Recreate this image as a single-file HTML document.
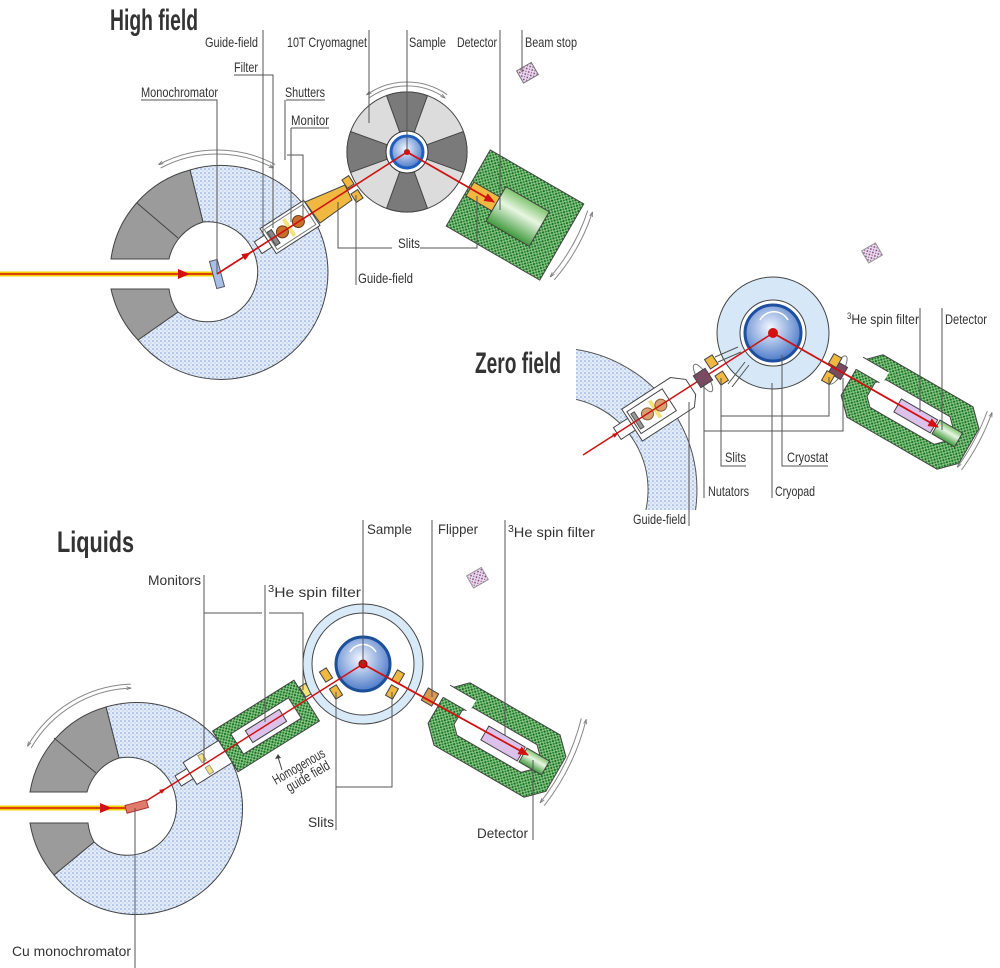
<!DOCTYPE html>
<html><head><meta charset="utf-8"><style>
html,body{margin:0;padding:0;background:#fff}
svg{display:block}
text{font-family:"Liberation Sans Narrow","Liberation Sans",sans-serif;fill:#333;font-size:14px}
.t{font-weight:bold;fill:#333;font-size:30px}
.l{stroke:#555;stroke-width:1;fill:none}
.o{stroke:#444;stroke-width:1}
</style></head><body>
<svg width="1000" height="968" viewBox="0 0 1000 968" xmlns="http://www.w3.org/2000/svg">
<defs>
<pattern id="bd" width="4" height="4" patternUnits="userSpaceOnUse">
<rect width="4" height="4" fill="#e3ecf8"/><circle cx="1" cy="1" r="0.8" fill="#7f9fd6"/><circle cx="3" cy="3" r="0.6" fill="#a9c0e6"/></pattern>
<pattern id="gd" width="4" height="4" patternUnits="userSpaceOnUse">
<rect width="4" height="4" fill="#8cc686"/><circle cx="1" cy="1" r="1.1" fill="#157024"/><circle cx="3" cy="3" r="1" fill="#1f7f2c"/></pattern>
<pattern id="pd" width="4" height="4" patternUnits="userSpaceOnUse">
<rect width="4" height="4" fill="#eadbee"/><circle cx="1" cy="1" r="0.9" fill="#7b3f77"/><circle cx="3" cy="3" r="0.7" fill="#9a5a94"/></pattern>
<radialGradient id="bg" cx="0.45" cy="0.4" r="0.6"><stop offset="0" stop-color="#f2f6ff"/><stop offset="1" stop-color="#4f7cc8"/></radialGradient>
<linearGradient id="gc" x1="0" y1="0" x2="0" y2="1"><stop offset="0" stop-color="#7fc46f"/><stop offset="0.4" stop-color="#e8f6e2"/><stop offset="1" stop-color="#3f9a3c"/></linearGradient>
<marker id="ar" viewBox="0 0 10 10" refX="9" refY="5" markerWidth="6" markerHeight="6" orient="auto"><path d="M0,1 L10,5 L0,9 Z" fill="#d21010"/></marker>
<marker id="ga" viewBox="0 0 10 10" refX="9" refY="5" markerWidth="5" markerHeight="5" orient="auto"><path d="M0,2 L10,5 L0,8" fill="none" stroke="#777" stroke-width="1.5"/></marker>
<clipPath id="zc"><rect x="576" y="340" width="130" height="170"/></clipPath>
<g id="hs">
<path d="M-68,-20 L-52,-36 L52,-36 L68,-20 L68,20 L52,36 L-52,36 L-68,20 Z M-45,-8 L-37,-16 L37,-16 L45,-8 L45,8 L37,16 L-37,16 L-45,8 Z" fill="url(#gd)" fill-rule="evenodd" stroke="#444"/>
<rect x="-72" y="-24" width="34" height="14" fill="#fff"/>
<path d="M-68,-10 H-41 M-68,-24 H-39" stroke="#444" fill="none"/>
</g>
</defs>

<!-- ================= HIGH FIELD ================= -->
<text class="t" x="110" y="30" textLength="88" lengthAdjust="spacingAndGlyphs">High field</text>
<path d="M190,170 A107,107 0 1 1 138,340 L178,312 A50,50 0 1 0 203,222 Z" fill="url(#bd)" class="o"/>
<path d="M111,259 A107,107 0 0 1 190,170 L203,222 A50,50 0 0 0 169,259 Z" fill="#9b9b9b" class="o"/>
<line x1="137" y1="203" x2="178" y2="238" class="o"/>
<path d="M111,289 L169,289 A50,50 0 0 0 178,312 L138,340 A107,107 0 0 1 111,289 Z" fill="#9b9b9b" class="o"/>
<path d="M160.7,168 A120,120 0 0 1 273.3,168" stroke="#888" fill="none" marker-end="url(#ga)"/>
<path d="M275.2,164.5 A124,124 0 0 0 158.8,164.5" stroke="#888" fill="none" marker-end="url(#ga)"/>
<line x1="0" y1="274" x2="217" y2="274" stroke="#f5d000" stroke-width="5"/>
<line x1="0" y1="274" x2="217" y2="274" stroke="#d21010" stroke-width="1.5"/>
<path d="M178,269 L190,274 L178,279 Z" fill="#d21010"/>
<line x1="217" y1="274" x2="407" y2="152" stroke="#d21010" stroke-width="1.5"/>
<path d="M240,259.2 L250,253" stroke="#d21010" stroke-width="1.5" marker-end="url(#ar)"/>
<rect x="213" y="260" width="8" height="28" fill="#a9bfe6" stroke="#556" transform="rotate(-15 217 274)"/>
<g transform="translate(290,227) rotate(-33)">
<rect x="-38" y="-7" width="12" height="14" fill="#fff" class="o"/>
<rect x="-26" y="-15" width="52" height="30" fill="#fff" class="o"/>
<rect x="-23" y="-12" width="46" height="24" fill="#fff" stroke="#777"/>
<rect x="-22" y="-8" width="5" height="16" fill="#888" stroke="#444"/>
<rect x="-3" y="-10" width="4" height="20" fill="#f3e37a"/>
<circle cx="-9" cy="0" r="6" fill="#c8702a" stroke="#6a3a10"/>
<circle cx="10" cy="0" r="6" fill="#c8702a" stroke="#6a3a10"/>
</g>
<line x1="217" y1="274" x2="407" y2="152" stroke="#d21010" stroke-width="1.5"/>
<polygon points="305,202 345,185 352,200 320,223" fill="#f0b840" class="o"/>
<rect x="344" y="177" width="8" height="10" fill="#f0b840" class="o" transform="rotate(-33 348 182)"/>
<rect x="353" y="191" width="8" height="10" fill="#f0b840" class="o" transform="rotate(-33 357 196)"/>
<circle cx="407" cy="152" r="60" fill="#dcdcdc" class="o"/>
<path d="M399.8,132.3 L386.5,95.6 A60,60 0 0 1 427.5,95.6 L414.2,132.3 Z" fill="#7a7a7a" class="o"/>
<path d="M399.8,171.7 L386.5,208.4 A60,60 0 0 0 427.5,208.4 L414.2,171.7 Z" fill="#7a7a7a" class="o"/>
<path d="M426.7,144.8 L463.4,131.5 A60,60 0 0 1 463.4,172.5 L426.7,159.2 Z" fill="#7a7a7a" class="o"/>
<path d="M387.3,144.8 L350.6,131.5 A60,60 0 0 0 350.6,172.5 L387.3,159.2 Z" fill="#7a7a7a" class="o"/>
<circle cx="407" cy="152" r="21" fill="#fff" stroke="#333"/>
<circle cx="407" cy="152" r="16" fill="url(#bg)" stroke="#1f5fbf" stroke-width="3"/>
<path d="M369.1,97.9 A66,66 0 0 1 444.9,97.9" stroke="#888" fill="none" marker-end="url(#ga)"/>
<path d="M447.2,94.7 A70,70 0 0 0 366.8,94.7" stroke="#888" fill="none" marker-end="url(#ga)"/>
<line x1="217" y1="274" x2="407" y2="152" stroke="#d21010" stroke-width="1.5"/>
<circle cx="407" cy="152" r="3" fill="#d21010"/>
<g transform="translate(515,215) rotate(30)">
<rect x="-54" y="-44" width="108" height="88" fill="url(#gd)" class="o"/>
<rect x="-52" y="-8" width="30" height="16" fill="#f0b840" class="o"/>
<rect x="-22" y="-20" width="50" height="40" fill="url(#gc)" class="o"/>
</g>
<line x1="407" y1="152" x2="494" y2="202" stroke="#d21010" stroke-width="1.8" marker-end="url(#ar)"/>
<path d="M587.7,210.7 A190,190 0 0 1 550.4,276.7" stroke="#888" fill="none" marker-end="url(#ga)"/>
<path d="M554.2,279.9 A195,195 0 0 0 592.4,212.3" stroke="#888" fill="none" marker-end="url(#ga)"/>
<rect x="519" y="66" width="17" height="14" fill="url(#pd)" stroke="#777" transform="rotate(-30 527 73)"/>
<text x="205" y="47" textLength="53" lengthAdjust="spacingAndGlyphs">Guide-field</text>
<text x="287" y="47" textLength="80" lengthAdjust="spacingAndGlyphs">10T Cryomagnet</text>
<text x="409" y="47" textLength="37" lengthAdjust="spacingAndGlyphs">Sample</text>
<text x="457" y="47" textLength="40" lengthAdjust="spacingAndGlyphs">Detector</text>
<text x="525" y="47" textLength="52" lengthAdjust="spacingAndGlyphs">Beam stop</text>
<text x="234" y="72" textLength="24" lengthAdjust="spacingAndGlyphs">Filter</text>
<text x="141" y="97" textLength="77" lengthAdjust="spacingAndGlyphs">Monochromator</text>
<text x="285" y="97" textLength="40" lengthAdjust="spacingAndGlyphs">Shutters</text>
<text x="291" y="125" textLength="38" lengthAdjust="spacingAndGlyphs">Monitor</text>
<text x="398" y="248" textLength="22" lengthAdjust="spacingAndGlyphs">Slits</text>
<text x="358" y="283" textLength="55" lengthAdjust="spacingAndGlyphs">Guide-field</text>
<path class="l" d="M263,30 V236 M369,30 V123 M407,30 V152 M500,30 V210 M522,30 V72
M234,75 H273 V228 M141,100 H217 V274 M285,100 V160 M286,100 H325 M287,155 H303 V218 M291,128 H329 M291,128 V222
M338,202 V248 H392 M420,248 H477 V196 M356,195 V285"/>

<!-- ================= ZERO FIELD ================= -->
<text class="t" x="475" y="373" textLength="86" lengthAdjust="spacingAndGlyphs">Zero field</text>
<g clip-path="url(#zc)">
<path d="M555,348 A142,142 0 1 1 554.9,348 Z M555,397 A93,93 0 1 0 555.1,397 Z" fill="url(#bd)" fill-rule="evenodd" stroke="#555"/>
</g>
<rect x="864" y="246" width="16" height="14" fill="url(#pd)" stroke="#999" transform="rotate(-30 872 253)"/>
<g transform="translate(655,409) rotate(-33)">
<rect x="-45" y="-7" width="18" height="14" fill="#fff" class="o"/>
<polygon points="-28,-18 30,-18 42,-8 42,10 34,20 -28,20" fill="#fff" class="o"/>
<rect x="-25" y="-13" width="42" height="26" fill="#fff" class="o"/>
<rect x="-23" y="-9" width="4" height="18" fill="#999" stroke="#555"/>
<rect x="-2" y="-10" width="4" height="20" fill="#f3e37a"/>
<circle cx="-9" cy="0" r="6" fill="#d8a070" stroke="#8a5a30"/>
<circle cx="7" cy="0" r="6" fill="#d8a070" stroke="#8a5a30"/>
</g>
<circle cx="773" cy="333" r="56" fill="#d6e8f7" class="o"/>
<path d="M738,347 L715,357 M741,352 L718,362 M745,362 L728,384 M749,365 L732,387" stroke="#555" fill="none"/>
<circle cx="773" cy="333" r="33" fill="#fff" class="o"/>
<circle cx="773" cy="333" r="28" fill="url(#bg)" stroke="#1f4fa0" stroke-width="3"/>
<path d="M760,320 A16,16 0 0 1 788,320" stroke="#fff" fill="none" stroke-width="1.5"/>
<line x1="583" y1="455" x2="773" y2="333" stroke="#d21010" stroke-width="1.5"/>
<path d="M610,438 L618,433" stroke="#d21010" marker-end="url(#ar)"/>
<circle cx="773" cy="333" r="5" fill="#d21010"/>
<ellipse cx="703" cy="378" rx="5" ry="16" fill="none" stroke="#777" transform="rotate(-33 703 378)"/>
<rect x="696" y="371" width="14" height="14" fill="#7a4a60" class="o" transform="rotate(-33 703 378)"/>
<rect x="707" y="356" width="9" height="11" fill="#f0b840" class="o" transform="rotate(-33 712 362)"/>
<rect x="717" y="373" width="9" height="11" fill="#f0b840" class="o" transform="rotate(-33 721 378)"/>
<g transform="translate(910,412) rotate(30)">
<use href="#hs"/>
<rect x="-14" y="-7" width="42" height="15" fill="#dcc2ea" class="o"/>
<rect x="30" y="-8" width="26" height="16" fill="url(#gc)" class="o"/>
</g>
<ellipse cx="838" cy="370" rx="5" ry="16" fill="none" stroke="#777" transform="rotate(30 838 370)"/>
<rect x="831" y="363" width="14" height="14" fill="#7a4a60" class="o" transform="rotate(30 838 370)"/>
<rect x="831" y="355" width="9" height="11" fill="#f0b840" class="o" transform="rotate(30 835 360)"/>
<rect x="824" y="372" width="9" height="11" fill="#f0b840" class="o" transform="rotate(30 828 377)"/>
<line x1="773" y1="333" x2="938" y2="427" stroke="#d21010" stroke-width="1.8" marker-end="url(#ar)"/>
<path d="M987.3,411 A228,228 0 0 1 957.5,467" stroke="#888" fill="none" marker-end="url(#ga)"/>
<path d="M961.5,470 A233,233 0 0 0 992,412.7" stroke="#888" fill="none" marker-end="url(#ga)"/>
<text x="847" y="324" textLength="72" lengthAdjust="spacingAndGlyphs"><tspan font-size="9" dy="-5">3</tspan><tspan dy="5">He spin filter</tspan></text>
<text x="945" y="324" textLength="42" lengthAdjust="spacingAndGlyphs">Detector</text>
<text x="725" y="462" textLength="21" lengthAdjust="spacingAndGlyphs">Slits</text>
<text x="787" y="462" textLength="41" lengthAdjust="spacingAndGlyphs">Cryostat</text>
<text x="708" y="496" textLength="41" lengthAdjust="spacingAndGlyphs">Nutators</text>
<text x="775" y="496" textLength="40" lengthAdjust="spacingAndGlyphs">Cryopad</text>
<text x="633" y="524" textLength="53" lengthAdjust="spacingAndGlyphs">Guide-field</text>
<path class="l" d="M920,308 V412 M942,308 V430 M721,378 V466 H746 M721,416 H829 V377 M782,355 V466 H828 M704,383 V498 M704,431 H843 V378 M772,383 V498 M689,402 V526"/>

<!-- ================= LIQUIDS ================= -->
<text class="t" x="57" y="552" textLength="77" lengthAdjust="spacingAndGlyphs">Liquids</text>
<path d="M106,707 A106,106 0 1 1 54,875 L94,842 A49,49 0 1 0 119,758 Z" fill="url(#bd)" class="o"/>
<path d="M30,792 A106,106 0 0 1 106,707 L119,758 A49,49 0 0 0 87,792 Z" fill="#9b9b9b" class="o"/>
<line x1="54" y1="738" x2="96" y2="773" class="o"/>
<path d="M30,823 L88,823 A49,49 0 0 0 94,842 L54,875 A106,106 0 0 1 30,823 Z" fill="#9b9b9b" class="o"/>
<path d="M31.1,748 A120,120 0 0 1 130.8,688.1" stroke="#888" fill="none" marker-end="url(#ga)"/>
<path d="M130.7,684.1 A124,124 0 0 0 27.6,746" stroke="#888" fill="none" marker-end="url(#ga)"/>
<line x1="0" y1="808" x2="135" y2="808" stroke="#f5d000" stroke-width="5"/>
<line x1="0" y1="808" x2="135" y2="808" stroke="#d21010" stroke-width="1.5"/>
<path d="M100,803 L112,808 L100,813 Z" fill="#d21010"/>
<g transform="translate(207,763) rotate(-32)">
<rect x="-34" y="-6" width="14" height="12" fill="#fff" class="o"/>
<rect x="-20" y="-13" width="42" height="26" fill="#fff" class="o"/>
<rect x="-4" y="-11" width="5" height="8" fill="#f3e37a" stroke="#999"/>
<rect x="-4" y="3" width="5" height="8" fill="#f3e37a" stroke="#999"/>
</g>
<g transform="translate(266,726) rotate(-32)">
<path d="M-48,-24 H48 V24 H-48 Z M-34,-12 H34 V12 H-34 Z" fill="url(#gd)" fill-rule="evenodd" stroke="#444"/>
<rect x="-20" y="-7" width="40" height="14" fill="#dcc2ea" class="o"/>
</g>
<rect x="302" y="684" width="7" height="12" fill="#f3e37a" class="o" transform="rotate(-32 306 690)"/>
<circle cx="363" cy="664" r="60" fill="#d8e9f7" class="o"/>
<circle cx="363" cy="664" r="51" fill="#fff" class="o"/>
<circle cx="363" cy="664" r="27" fill="url(#bg)" stroke="#1b4f9a" stroke-width="3"/>
<path d="M350,652 A15,15 0 0 1 376,652" stroke="#fff" fill="none" stroke-width="1.5"/>
<rect x="322" y="669" width="8" height="12" fill="#f0b840" class="o" transform="rotate(-32 326 675)"/>
<rect x="332" y="686" width="8" height="12" fill="#f0b840" class="o" transform="rotate(-32 336 692)"/>
<rect x="394" y="671" width="8" height="12" fill="#f0b840" class="o" transform="rotate(30 398 677)"/>
<rect x="388" y="686" width="8" height="12" fill="#f0b840" class="o" transform="rotate(30 392 692)"/>
<rect x="424" y="690" width="12" height="14" fill="#d89850" class="o" transform="rotate(30 430 697)"/>
<g transform="translate(497,740) rotate(30)">
<use href="#hs"/>
<rect x="-14" y="-8" width="42" height="16" fill="#dcc2ea" class="o"/>
<rect x="30" y="-8" width="26" height="16" fill="url(#gc)" class="o"/>
</g>
<line x1="135" y1="808" x2="363" y2="664" stroke="#d21010" stroke-width="1.5"/>
<path d="M155,795.4 L165,789" stroke="#d21010" marker-end="url(#ar)"/>
<line x1="363" y1="664" x2="528" y2="755" stroke="#d21010" stroke-width="1.8" marker-end="url(#ar)"/>
<circle cx="363" cy="664" r="4" fill="#d21010" stroke="#900"/>
<rect x="126" y="803" width="22" height="8" fill="#e07a6a" stroke="#a33" transform="rotate(-15 135 808)"/>
<rect x="469" y="571" width="17" height="14" fill="url(#pd)" stroke="#999" transform="rotate(-30 477 578)"/>
<path d="M581.3,718.4 A225,225 0 0 1 540.3,802.6" stroke="#888" fill="none" marker-end="url(#ga)"/>
<path d="M544.2,805.7 A230,230 0 0 0 586.1,719.7" stroke="#888" fill="none" marker-end="url(#ga)"/>
<text x="367" y="534" textLength="45" lengthAdjust="spacingAndGlyphs">Sample</text>
<text x="438" y="534" textLength="40" lengthAdjust="spacingAndGlyphs">Flipper</text>
<text x="508" y="537" textLength="87" lengthAdjust="spacingAndGlyphs"><tspan font-size="10" dy="-5">3</tspan><tspan dy="5">He spin filter</tspan></text>
<text x="148" y="585" textLength="53" lengthAdjust="spacingAndGlyphs">Monitors</text>
<text x="268" y="597" textLength="93" lengthAdjust="spacingAndGlyphs"><tspan font-size="10" dy="-5">3</tspan><tspan dy="5">He spin filter</tspan></text>
<g transform="translate(276,785) rotate(-30)">
<text x="0" y="0" font-size="12" textLength="58" lengthAdjust="spacingAndGlyphs">Homogenous</text>
<text x="8" y="13" font-size="12" textLength="48" lengthAdjust="spacingAndGlyphs">guide field</text>
</g>
<path d="M282,770 L278,757" stroke="#444"/><path d="M275,759 L278,754 L281,758" fill="#444"/>
<text x="308" y="827" textLength="26" lengthAdjust="spacingAndGlyphs">Slits</text>
<text x="477" y="838" textLength="51" lengthAdjust="spacingAndGlyphs">Detector</text>
<text x="12" y="956" textLength="119" lengthAdjust="spacingAndGlyphs">Cu monochromator</text>
<path class="l" d="M363,520 V664 M432,520 V697 M505,520 V735 M204,575 V765 M204,613 H262 M269,613 H303 V690 M265,585 V722 M336,692 V830 M336,787 H392 V692 M533,760 V840 M135,808 V968"/>
</svg>
</body></html>
